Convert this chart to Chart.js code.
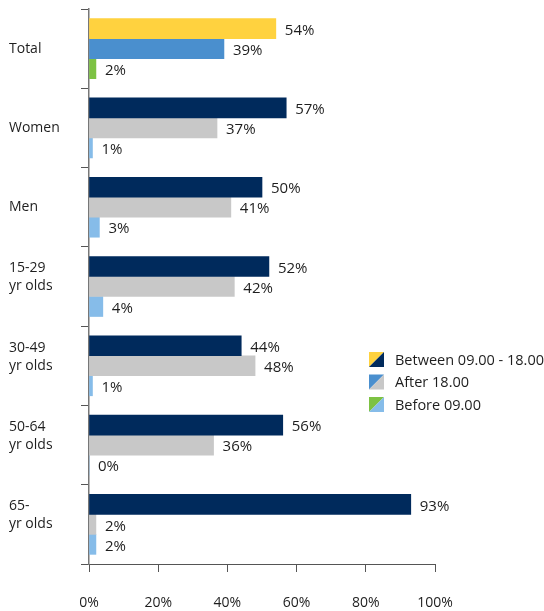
<!DOCTYPE html>
<html>
<head>
<meta charset="utf-8">
<script src="https://cdn.jsdelivr.net/npm/chart.js@4/dist/chart.umd.min.js"></script>
<style>
  html, body { margin: 0; padding: 0; background: #fff; }
  #wrap { position: relative; width: 544px; height: 611px; }
</style>
</head>
<body>
<div id="wrap"><canvas id="chart" width="544" height="611"></canvas></div>
<script>
// Categories (multi-line labels carry a trailing blank line so the last line sits on the row centre)
const categories = [
  'Total',
  'Women',
  'Men',
  ['15-29', 'yr olds', ''],
  ['30-49', 'yr olds', ''],
  ['50-64', 'yr olds', ''],
  ['65-', 'yr olds', '']
];

// Share of people by time of day (%)
const between0918 = [54, 57, 50, 52, 44, 56, 93];
const after18     = [39, 37, 41, 42, 48, 36, 2];
const before09    = [2, 1, 3, 4, 1, 0, 2];

const xTicks = [0, 20, 40, 60, 80, 100];

const seriesNames = ['Between 09.00 - 18.00', 'After 18.00', 'Before 09.00'];

// Palette: the "Total" row uses its own colour, the rest share the breakdown colour
const totalColors = ['#FFD23F', '#4A8FCE', '#7DC243'];
const groupColors = ['#002A5C', '#C8C8C8', '#86BCE9'];

const FONT = "'Open Sans', 'DejaVu Sans', sans-serif";
const TEXT = '#1e1e1e';

function rowColors(i) {
  return categories.map((_, k) => (k === 0 ? totalColors[i] : groupColors[i]));
}

const valueLabels = {
  id: 'valueLabels',
  afterDatasetsDraw(chart) {
    const ctx = chart.ctx;
    ctx.save();
    ctx.font = '15px ' + FONT;
    ctx.fillStyle = TEXT;
    ctx.textAlign = 'left';
    ctx.textBaseline = 'middle';
    chart.data.datasets.forEach((ds, di) => {
      const meta = chart.getDatasetMeta(di);
      meta.data.forEach((el, i) => {
        ctx.fillText(ds.data[i] + '%', el.x + 9, el.y + 2);
      });
    });
    ctx.restore();
  }
};

const splitLegend = {
  id: 'splitLegend',
  afterDraw(chart) {
    const ctx = chart.ctx;
    const x0 = 369, y0 = 352, size = 15, step = 22.5;
    ctx.save();
    ctx.font = '14.5px ' + FONT;
    ctx.textBaseline = 'middle';
    ctx.textAlign = 'left';
    seriesNames.forEach((name, i) => {
      const y = y0 + i * step;
      ctx.fillStyle = totalColors[i];
      ctx.beginPath();
      ctx.moveTo(x0, y);
      ctx.lineTo(x0 + size, y);
      ctx.lineTo(x0, y + size);
      ctx.closePath();
      ctx.fill();
      ctx.fillStyle = groupColors[i];
      ctx.beginPath();
      ctx.moveTo(x0 + size, y);
      ctx.lineTo(x0 + size, y + size);
      ctx.lineTo(x0, y + size);
      ctx.closePath();
      ctx.fill();
      ctx.fillStyle = TEXT;
      ctx.fillText(name, x0 + 26, y + size / 2 + 1);
    });
    ctx.restore();
  }
};

new Chart(document.getElementById('chart'), {
  type: 'bar',
  data: {
    labels: categories,
    datasets: [
      { label: seriesNames[0], data: between0918, backgroundColor: rowColors(0) },
      { label: seriesNames[1], data: after18, backgroundColor: rowColors(1) },
      { label: seriesNames[2], data: before09, backgroundColor: rowColors(2) }
    ]
  },
  options: {
    indexAxis: 'y',
    responsive: false,
    animation: false,
    layout: { padding: { left: 9, top: 9, right: 109, bottom: 0 } },
    datasets: { bar: { barThickness: 20, borderWidth: 0 } },
    plugins: {
      legend: { display: false },
      tooltip: { enabled: false }
    },
    scales: {
      x: {
        min: 0,
        max: 100,
        afterBuildTicks(scale) { scale.ticks = xTicks.map(v => ({ value: v })); },
        afterFit(scale) { scale.height = 47; },
        ticks: {
          callback: v => v + '%',
          color: TEXT,
          font: { family: FONT, size: 14 },
          padding: 23,
          maxRotation: 0
        },
        grid: { drawOnChartArea: false, drawTicks: true, tickLength: 8, color: '#555', lineWidth: 1 },
        border: { display: true, color: '#555', width: 1 }
      },
      y: {
        afterFit(scale) {
          scale.width = 80;
          scale.paddingTop = 0;
          scale.paddingBottom = 0;
        },
        ticks: {
          crossAlign: 'far',
          color: TEXT,
          font: { family: FONT, size: 14, lineHeight: 1.3 },
          padding: 6
        },
        grid: { offset: true, drawOnChartArea: false, drawTicks: true, tickLength: 8, color: '#555', lineWidth: 1 },
        border: { display: true, color: '#777', width: 1.5 }
      }
    }
  },
  plugins: [valueLabels, splitLegend]
});
</script>
</body>
</html>
